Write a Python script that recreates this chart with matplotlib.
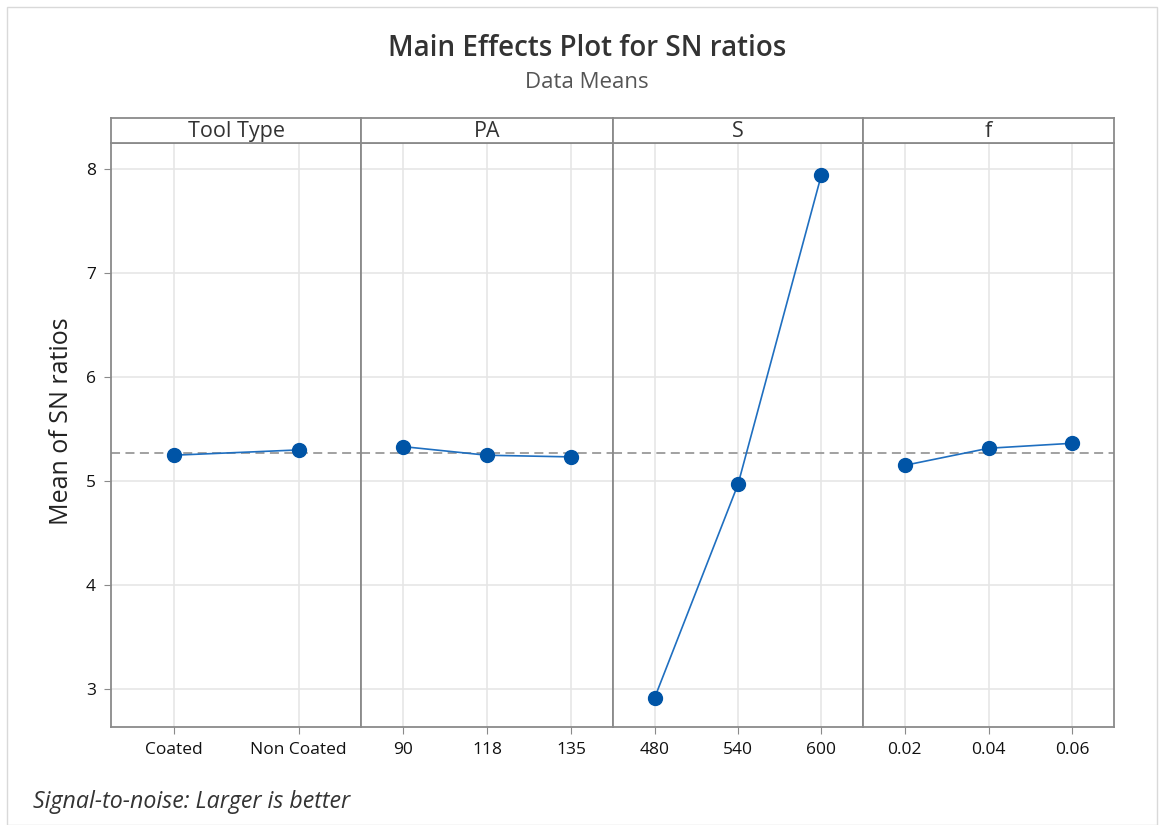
import matplotlib
matplotlib.use("Agg")
import matplotlib.pyplot as plt
from matplotlib.patches import Rectangle
import numpy as np

factors = ["Tool Type", "PA", "S", "f"]
levels = [
    ["Coated", "Non Coated"],
    ["90", "118", "135"],
    ["480", "540", "600"],
    ["0.02", "0.04", "0.06"],
]
means = [
    [5.248, 5.299],
    [5.331, 5.248, 5.232],
    [2.916, 4.968, 7.942],
    [5.151, 5.315, 5.363],
]
grand_mean = np.mean([np.mean(m) for m in means])

W, H = 1164, 825
fig = plt.figure(figsize=(W / 100, H / 100), dpi=100)
fig.patch.set_facecolor("white")

FONT = "Open Sans"
plt.rcParams["font.family"] = [FONT, "DejaVu Sans"]

# outer border
fig.patches.append(Rectangle((7 / W, 0), (1157 - 7) / W, (H - 7) / H, transform=fig.transFigure,
                             fill=False, edgecolor="#d9d9d9", linewidth=1.0))

edges = [111, 361, 613, 863, 1114]
top_strip, bot_strip, bottom = 118, 143, 727
frame_col = "#8a8a8a"
ylim = (2.635, 8.25)

def fx(px):
    return px / W

def fy(py):
    return 1 - py / H

for i, fac in enumerate(factors):
    x0, x1 = edges[i], edges[i + 1]
    ax = fig.add_axes([fx(x0), fy(bottom), fx(x1 - x0), (bottom - bot_strip) / H])
    n = len(levels[i])
    xs = np.arange(n)
    ax.set_xlim(-0.5, n - 0.5)
    ax.set_ylim(*ylim)
    ax.set_yticks([3, 4, 5, 6, 7, 8])
    ax.grid(True, color="#e6e6e6", linewidth=1.2)
    ax.set_axisbelow(True)
    ax.axhline(grand_mean, color="#9a9a9a", linestyle=(0, (5, 3)), linewidth=1.3, zorder=2)
    ax.plot(xs, means[i], color="#1f6fc0", linewidth=1.2, zorder=3)
    ax.plot(xs, means[i], "o", color="#0054a6", markersize=10, zorder=4)
    ax.set_xticks(xs)
    ax.set_xticklabels(levels[i], fontsize=12.5, color="#111111", fontweight="medium")
    ax.tick_params(axis="x", direction="out", length=5, color=frame_col, pad=6)
    if i == 0:
        ax.tick_params(axis="y", direction="out", length=5, color=frame_col, labelsize=12.5,
                       labelcolor="#111111", pad=6)
        for lab in ax.get_yticklabels():
            lab.set_fontweight("medium")
        ax.set_ylabel("Mean of SN ratios", fontsize=18, color="#222222")
        ax.yaxis.set_label_coords(-0.15, 0.524)
    else:
        ax.tick_params(axis="y", length=0, labelleft=False)
    for s in ax.spines.values():
        s.set_color(frame_col)
        s.set_linewidth(1.3)

    sax = fig.add_axes([fx(x0), fy(bot_strip), fx(x1 - x0), (bot_strip - top_strip) / H])
    sax.set_xticks([])
    sax.set_yticks([])
    for s in sax.spines.values():
        s.set_color(frame_col)
        s.set_linewidth(1.3)
    sax.text(0.5, 0.45, fac, ha="center", va="center", fontsize=15.5, color="#333333",
             transform=sax.transAxes)

fig.text(fx(587), fy(48), "Main Effects Plot for SN ratios", ha="center", va="center",
         fontsize=20, fontweight="semibold", color="#333333")
fig.text(fx(587), fy(83), "Data Means", ha="center", va="center", fontsize=16, color="#555555")
fig.text(fx(33), fy(802), "Signal-to-noise: Larger is better", ha="left", va="center",
         fontsize=16.7, style="italic", color="#333333")

fig.savefig("out.png", dpi=100)
